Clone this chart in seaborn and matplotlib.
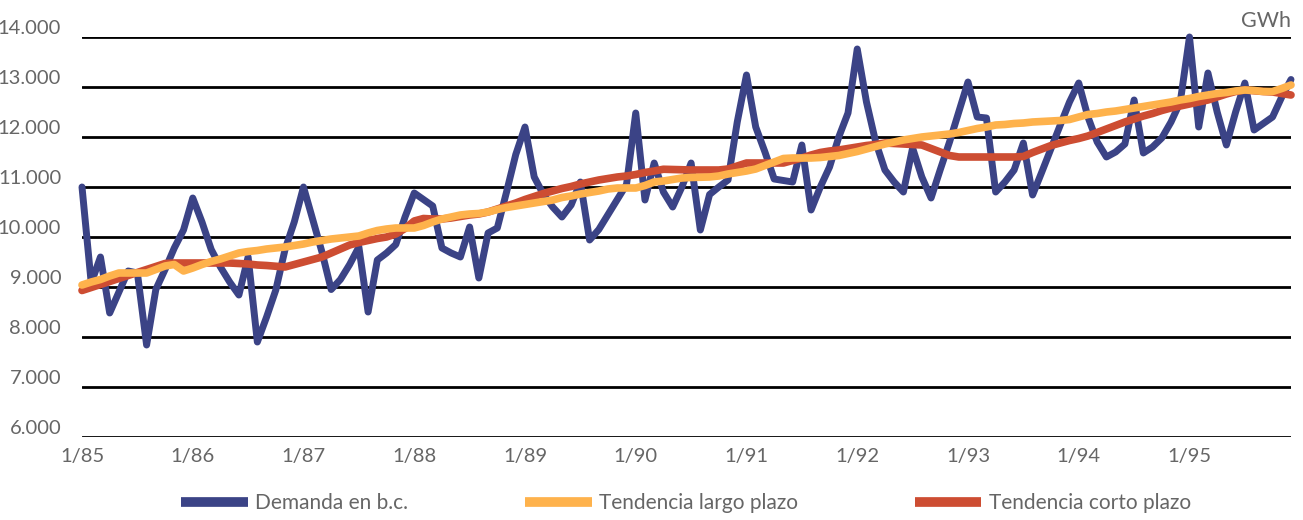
import matplotlib
matplotlib.use('Agg')
import matplotlib.pyplot as plt
import pandas as pd
import numpy as np
import seaborn as sns

# monthly demand, GWh (1/85 .. 12/95)
demanda = [
    11000, 9080, 9600, 8480, 8900, 9320, 9280, 7840, 8950, 9350, 9780, 10140,
    10780, 10300, 9750, 9400, 9100, 8840, 9600, 7900, 8400, 8940, 9750, 10300,
    11000, 10350, 9700, 8950, 9150, 9450, 9800, 8500, 9540, 9680, 9850, 10400,
    10880, 10750, 10620, 9780, 9680, 9600, 10200, 9180, 10080, 10180, 10900, 11650,
    12200, 11200, 10850, 10600, 10400, 10640, 11100, 9940, 10150, 10450, 10750, 11050,
    12480, 10740, 11480, 10900, 10600, 11000, 11480, 10140, 10850, 11000, 11140, 12300,
    13240, 12200, 11700, 11160, 11130, 11100, 11840, 10540, 11000, 11400, 12000, 12480,
    13760, 12700, 11900, 11340, 11100, 10900, 11780, 11200, 10780, 11350, 11900, 12500,
    13100, 12400, 12380, 10900, 11100, 11340, 11880, 10840, 11300, 11770, 12240, 12700,
    13080, 12400, 11900, 11600, 11700, 11860, 12740, 11680, 11800, 11980, 12300, 12700,
    14000, 12200, 13280, 12500, 11840, 12500, 13080, 12140, 12270, 12400, 12800, 13150,
]

tend_largo = [
    9040, 9100, 9150, 9220, 9280, 9280, 9280, 9280, 9350, 9420, 9450, 9320,
    9380, 9450, 9510, 9560, 9620, 9680, 9710, 9730, 9760, 9780, 9800, 9830,
    9860, 9900, 9930, 9960, 9980, 10000, 10020, 10080, 10130, 10160, 10180, 10180,
    10180, 10230, 10300, 10360, 10400, 10440, 10460, 10470, 10500, 10550, 10590, 10620,
    10650, 10680, 10710, 10740, 10790, 10820, 10860, 10890, 10920, 10960, 10980, 10980,
    10980, 11030, 11100, 11120, 11150, 11180, 11190, 11195, 11200, 11220, 11260, 11290,
    11320, 11360, 11430, 11500, 11570, 11580, 11580, 11580, 11590, 11610, 11630, 11670,
    11710, 11760, 11810, 11860, 11900, 11940, 11970, 12000, 12020, 12040, 12060, 12090,
    12130, 12170, 12200, 12240, 12250, 12270, 12280, 12300, 12310, 12320, 12330, 12350,
    12400, 12450, 12470, 12500, 12520, 12550, 12580, 12610, 12640, 12670, 12700, 12740,
    12770, 12810, 12840, 12870, 12890, 12920, 12940, 12930, 12910, 12910, 12970, 13040,
]

tend_corto = [
    8930, 8990, 9050, 9110, 9170, 9230, 9290, 9350, 9410, 9470, 9480, 9480,
    9480, 9480, 9480, 9480, 9480, 9470, 9460, 9440, 9430, 9415, 9400, 9450,
    9500, 9550, 9600, 9680, 9760, 9840, 9890, 9930, 9970, 10000, 10060, 10170,
    10320, 10370, 10360, 10360, 10380, 10410, 10440, 10460, 10500, 10560, 10620, 10680,
    10750, 10810, 10870, 10920, 10970, 11010, 11060, 11100, 11140, 11170, 11200, 11220,
    11250, 11290, 11320, 11355, 11350, 11345, 11340, 11340, 11340, 11340, 11360, 11420,
    11480, 11480, 11480, 11480, 11480, 11530, 11580, 11640, 11690, 11720, 11740, 11770,
    11800, 11830, 11850, 11880, 11870, 11860, 11850, 11840, 11770, 11700, 11630, 11600,
    11600, 11600, 11600, 11600, 11600, 11600, 11610, 11690, 11760, 11830, 11880, 11930,
    11970, 12020, 12090, 12160, 12230, 12300, 12360, 12420, 12470, 12530, 12580, 12620,
    12660, 12700, 12740, 12800, 12860, 12910, 12940, 12925, 12910, 12900, 12870, 12840,
]

years = ['1/85', '1/86', '1/87', '1/88', '1/89', '1/90', '1/91', '1/92', '1/93', '1/94', '1/95']
series_names = ['Demanda en b.c.', 'Tendencia largo plazo', 'Tendencia corto plazo']
colors = {'Demanda en b.c.': '#3b4386', 'Tendencia largo plazo': '#feb24c', 'Tendencia corto plazo': '#cd4d32'}

df = pd.DataFrame({
    'mes': np.arange(len(demanda)),
    'Demanda en b.c.': demanda,
    'Tendencia largo plazo': tend_largo,
    'Tendencia corto plazo': tend_corto,
})

sns.set_style('white')
plt.rcParams['font.family'] = ['Lato', 'DejaVu Sans']
text_color = '#666666'

fig = plt.figure(figsize=(13.03, 5.2), dpi=100)
ax = fig.add_axes([82 / 1303, 1 - 437 / 520, (1291 - 82) / 1303, 400 / 520])

# draw order: demand, short trend, long trend on top
sns.lineplot(data=df, x='mes', y='Demanda en b.c.', ax=ax, color=colors['Demanda en b.c.'],
             linewidth=5, label='Demanda en b.c.', clip_on=False, zorder=3)
sns.lineplot(data=df, x='mes', y='Tendencia corto plazo', ax=ax, color=colors['Tendencia corto plazo'],
             linewidth=5.5, label='Tendencia corto plazo', clip_on=False, zorder=4)
sns.lineplot(data=df, x='mes', y='Tendencia largo plazo', ax=ax, color=colors['Tendencia largo plazo'],
             linewidth=5.5, label='Tendencia largo plazo', clip_on=False, zorder=5)

ax.set_xlim(0, len(demanda) - 1)
ax.set_ylim(6000, 14000)
ax.set_yticks(np.arange(6000, 14001, 1000))
ax.yaxis.set_major_formatter(plt.FuncFormatter(lambda v, p: f'{int(v):,}'.replace(',', '.')))
ax.set_xticks(np.arange(0, 12 * len(years), 12))
ax.set_xticklabels(years)
ax.set_xlabel('')
ax.set_ylabel('')
ax.grid(axis='y', color='black', linewidth=2.0, zorder=1)
ax.grid(axis='x', visible=False)
ax.set_axisbelow(True)
for s in ax.spines.values():
    s.set_visible(False)
ax.tick_params(axis='y', length=0, pad=15, labelsize=14.5, labelcolor=text_color)
ax.tick_params(axis='x', length=0, pad=8, labelsize=14.5, labelcolor=text_color)
for lbl in ax.get_yticklabels():
    lbl.set_verticalalignment('bottom')

fig.text(1291 / 1303, 1 - 21 / 520, 'GWh', ha='right', va='center', fontsize=15.5,
         color=text_color)

ax.get_legend().remove()
handles, labels = ax.get_legend_handles_labels()
order = [labels.index(n) for n in series_names]
leg = fig.legend([handles[i] for i in order], [labels[i] for i in order],
                 loc='center', bbox_to_anchor=(686 / 1303, 1 - 503 / 520), ncol=3, frameon=False,
                 handlelength=3.2, handletextpad=0.35, columnspacing=5.6,
                 prop={'size': 15})
for t in leg.get_texts():
    t.set_color(text_color)
for l in leg.get_lines():
    l.set_linewidth(7)
    l.set_solid_capstyle('butt')

plt.savefig('out.png', dpi=100)
plt.close()
